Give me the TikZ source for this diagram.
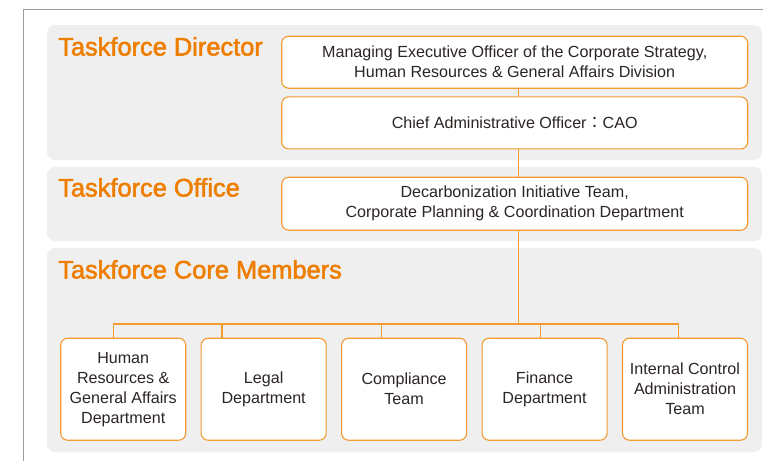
\documentclass[tikz,border=0pt]{standalone}
\usepackage{fontspec}
\setmainfont{Liberation Sans}
\newfontfamily\headfont[FakeBold=2]{Liberation Sans}
\newfontfamily\cjk{Noto Sans CJK JP}
\usetikzlibrary{calc}
\definecolor{tforange}{HTML}{EE7D00}
\definecolor{tfline}{HTML}{F39A30}
\definecolor{tfpanel}{HTML}{EFEFEF}
\definecolor{tfframe}{HTML}{9E9E9E}
\definecolor{tftext}{HTML}{2B2523}

\begin{document}
\begin{tikzpicture}[x=1pt,y=-1pt,
    panel/.style={fill=tfpanel, rounded corners=8},
    heading/.style={anchor=base west, text=tforange, inner sep=0,
        font=\headfont\fontsize{25.4}{30}\selectfont},
    orgbox/.style={draw=tfline, line width=1.1pt, fill=white, rounded corners=7,
        align=center, text=tftext, inner sep=0, font=\fontsize{16.1}{20}\selectfont},
    widebox/.style={orgbox, minimum width=466, minimum height=52},
    deptbox/.style={orgbox, minimum width=125, minimum height=102},
    link/.style={draw=tfline, line width=1.1pt}]

    \newcommand*{\deptstep}{140.45}%
    \newcommand*{\trunkoffset}{3.6}%

    \useasboundingbox (0,0) rectangle (763,461);

    % frame ↓
    \draw[tfframe, line width=1] (763,9) -- (23,9) -- (23,461);

    % panels ↓
    \fill[panel] (47,25) rectangle (762,160);
    \fill[panel] (47,167) rectangle (762,241);
    \fill[panel] (47,248) rectangle (762,452);

    \node[heading] (hdir) at (58,55.5) {Taskforce Director};
    \node[heading] (hoff) at (58,196.5) {Taskforce Office};
    \node[heading] (hcore) at (58,278.5) {Taskforce Core Members};

    % top boxes ↓
    \node[widebox] (meo) at (514.7,62.2)
        {Managing Executive Officer of the Corporate Strategy,\\Human Resources \& General Affairs Division};
    \node[widebox] (cao) at (514.7,122.9) {Chief Administrative Officer{\cjk ：}CAO};
    \node[widebox, minimum height=53] (office) at (514.7,203.7)
        {Decarbonization Initiative Team,\\Corporate Planning \& Coordination Department};

    % departments ↓
    \foreach \name/\txt [count=\i from 0] in {hr/{Human\\Resources \&\\General Affairs\\Department},
            legal/{Legal\\Department}, comp/{Compliance\\Team}, fin/{Finance\\Department},
            ctrl/{Internal Control\\Administration\\Team}}
        \node[deptbox] (\name) at ({123.2 + \i * \deptstep}, 389.2) {\txt};

    % trunk ↓
    \coordinate (bus) at (518.3,324);
    \draw[link] ([xshift=\trunkoffset]meo.south) -- ([xshift=\trunkoffset]cao.north);
    \draw[link] ([xshift=\trunkoffset]cao.south) -- ([xshift=\trunkoffset]office.north);
    \draw[link] ([xshift=\trunkoffset]office.south) -- (bus);

    % drops ↓
    \foreach \name/\f in {hr/0.42, legal/0.17, comp/0.32, fin/0.47, ctrl/0.45}
        \draw[link] ($(\name.north west)!\f!(\name.north east)$) |- (bus);

\end{tikzpicture}
\end{document}
